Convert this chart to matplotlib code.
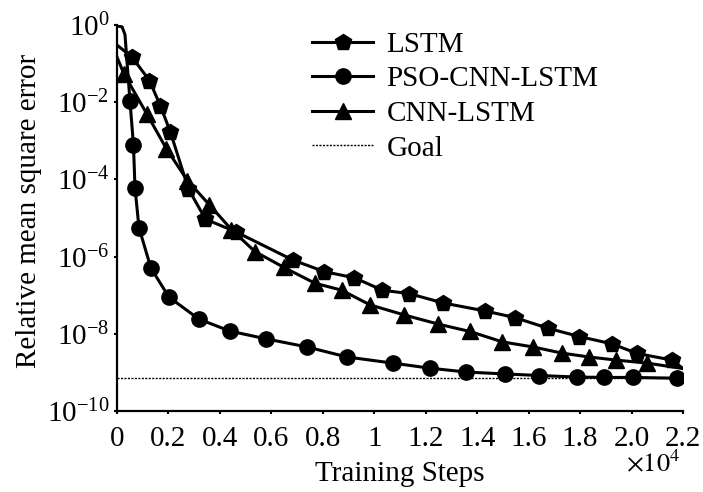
import numpy as np
import matplotlib
matplotlib.use("Agg")
import matplotlib.pyplot as plt
from matplotlib.ticker import FixedLocator, LogFormatterMathtext

plt.rcParams['font.family'] = ['Liberation Serif', 'DejaVu Serif']
plt.rcParams['mathtext.fontset'] = 'stix'

# values (x in training steps, y as log10 of the error)
# first points of each list carry no marker (start of the curve)
lstm_x = [0, 583, 1263, 1691, 2079, 2779, 3440, 4625, 6840, 8064, 9230, 10319,
          11368, 12670, 14322, 15468, 16770, 17967, 19238, 20221, 21570, 22000]
lstm_e = [-0.52, -0.83, -1.44, -2.10, -2.78, -4.25, -5.03, -5.36, -6.09, -6.39, -6.55, -6.87,
          -6.96, -7.20, -7.41, -7.58, -7.86, -8.07, -8.26, -8.51, -8.68, -8.90]

pso_x = [0, 200, 311, 505, 641, 700, 855, 1321, 2021, 3187, 4392, 5791, 7384, 8939,
         10727, 12165, 13564, 15080, 16401, 17878, 18927, 20054, 21764]
pso_e = [-0.02, -0.05, -0.25, -1.97, -3.11, -4.22, -5.25, -6.30, -7.05, -7.62, -7.93, -8.13, -8.34, -8.60,
         -8.76, -8.89, -8.99, -9.04, -9.08, -9.12, -9.13, -9.13, -9.15]

cnn_x = [0, 272, 1166, 1924, 2740, 3595, 4450, 5363, 6490, 7695, 8733, 9833,
         11154, 12495, 13719, 14982, 16168, 17295, 18344, 19394, 20618, 22000]
cnn_e = [-0.83, -1.27, -2.31, -3.21, -4.03, -4.66, -5.30, -5.87, -6.28, -6.69, -6.87, -7.25,
         -7.51, -7.75, -7.94, -8.21, -8.34, -8.50, -8.60, -8.68, -8.76, -8.90]

goal = 7.2e-10

x_ticks = [0, 2000, 4000, 6000, 8000, 10000, 12000, 14000, 16000, 18000, 20000, 22000]
x_labels = ['0', '0.2', '0.4', '0.6', '0.8', '1', '1.2', '1.4', '1.6', '1.8', '2.0', '2.2']
y_ticks = [1e0, 1e-2, 1e-4, 1e-6, 1e-8, 1e-10]

fs = 21

fig = plt.figure(figsize=(7.03, 4.92), dpi=100)
ax = fig.add_axes([0.1664, 0.1646, 0.8052, 0.7846])

lstm_y = 10.0 ** np.array(lstm_e)
pso_y = 10.0 ** np.array(pso_e)
cnn_y = 10.0 ** np.array(cnn_e)

ax.plot(lstm_x, lstm_y, color='black', lw=2.2, marker='p', ms=12,
        markevery=list(range(1, len(lstm_x) - 1)), label='LSTM')
ax.plot(pso_x, pso_y, color='black', lw=2.2, marker='o', ms=11,
        markevery=list(range(3, len(pso_x))), label='PSO-CNN-LSTM')
ax.plot(cnn_x, cnn_y, color='black', lw=2.2, marker='^', ms=11,
        markevery=list(range(1, len(cnn_x) - 1)), label='CNN-LSTM')
ax.plot([0, 22000], [goal, goal], color='black', lw=1.0, ls=(0, (1.5, 1)), label='Goal')

ax.set_yscale('log')
ax.set_xlim(0, 22000)
ax.set_ylim(1e-10, 1e0)
ax.yaxis.set_major_locator(FixedLocator(y_ticks))
ax.yaxis.set_major_formatter(LogFormatterMathtext())
ax.yaxis.set_minor_locator(FixedLocator([]))
ax.set_xticks(x_ticks)
ax.set_xticklabels(x_labels)

for s in ['top', 'right']:
    ax.spines[s].set_visible(False)
for s in ['left', 'bottom']:
    ax.spines[s].set_linewidth(1.6)
ax.tick_params(axis='both', direction='out', length=2.5, width=1.5, labelsize=fs)
ax.tick_params(axis='x', pad=8)
ax.tick_params(axis='y', pad=3)

ax.set_xlabel('Training Steps', fontsize=fs)
ax.set_ylabel('Relative mean square error', fontsize=fs)
ax.xaxis.set_label_coords(0.5, -0.13)
ax.yaxis.set_label_coords(-0.133, 0.518)

ax.text(0.995, -0.1, r'$\times10^{4}$', transform=ax.transAxes, ha='right', va='top',
        fontsize=19)

ax.legend(loc='upper left', bbox_to_anchor=(0.444, 0.936), bbox_transform=fig.transFigure,
          frameon=False, fontsize=fs, handlelength=2.1, handletextpad=0.45,
          labelspacing=0.28, borderpad=0, borderaxespad=0)

fig.savefig('out.png', dpi=100)
